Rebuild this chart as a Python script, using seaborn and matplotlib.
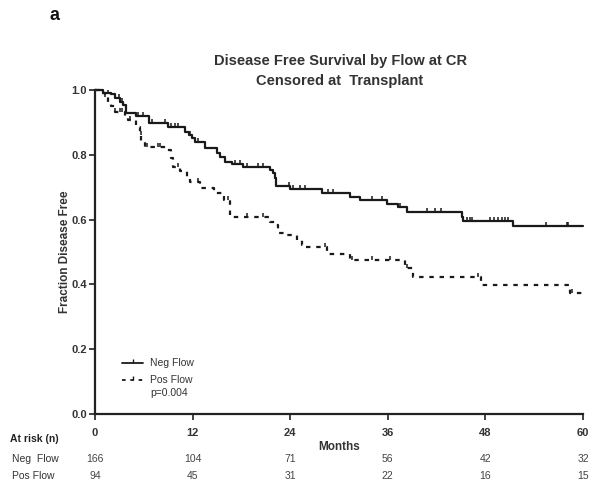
import numpy as np
import pandas as pd
import matplotlib
matplotlib.use("Agg")
import matplotlib.pyplot as plt
from matplotlib.lines import Line2D
import seaborn as sns

# ---------------- data ----------------
neg_times = [0, 1.0, 2.0, 2.5, 3.1, 3.5, 3.8, 5.1, 6.6, 9.0, 11.1, 11.5, 11.9, 12.3,
             13.5, 15.0, 15.4, 16.0, 16.8, 18.2, 21.5, 21.9, 22.1, 22.3, 24.0, 27.9,
             31.4, 32.6, 35.9, 37.3, 38.3, 45.1, 45.3, 51.4, 60.0]
neg_surv = [1.0, 0.992, 0.988, 0.974, 0.964, 0.954, 0.928, 0.92, 0.897, 0.887, 0.871,
            0.861, 0.851, 0.84, 0.82, 0.805, 0.794, 0.779, 0.772, 0.761, 0.753, 0.743,
            0.727, 0.704, 0.693, 0.683, 0.671, 0.66, 0.648, 0.64, 0.624, 0.609, 0.596,
            0.58, 0.58]
neg_censor = [0.8, 1.6, 2.9, 3.3, 5.3, 5.9, 7.0, 8.6, 9.4, 9.8, 10.2, 11.7, 12.7,
              17.2, 17.8, 18.7, 20.1, 20.7, 23.8, 24.4, 25.2, 25.8, 28.7, 29.3, 34.0,
              35.3, 37.5, 40.8, 41.8, 42.6, 45.7, 46.1, 46.3, 48.6, 49.0, 49.6, 50.0,
              50.4, 50.8, 55.5, 58.0, 58.2]

pos_times = [0, 0.8, 1.2, 1.6, 2.0, 2.5, 3.7, 4.1, 5.1, 5.5, 5.7, 6.15, 8.8, 9.3, 9.6,
             10.5, 11.3, 11.7, 12.9, 14.6, 15.8, 16.6, 21.5, 22.1, 22.5, 23.6, 24.8,
             25.4, 25.8, 28.5, 31.4, 38.1, 39.1, 47.4, 58.4, 60.0]
pos_surv = [1.0, 0.99, 0.979, 0.964, 0.95, 0.932, 0.914, 0.907, 0.887, 0.86, 0.84,
            0.825, 0.815, 0.79, 0.763, 0.75, 0.73, 0.717, 0.697, 0.681, 0.66, 0.609,
            0.594, 0.583, 0.558, 0.552, 0.537, 0.522, 0.516, 0.494, 0.475, 0.45, 0.424,
            0.398, 0.372, 0.372]
pos_censor = [1.2, 2.5, 3.1, 3.3, 4.3, 5.6, 6.4, 7.8, 8.0, 10.2, 12.7, 15.8, 16.4,
              18.7, 20.7, 28.3, 31.6, 34.0, 36.3, 38.3, 47.1, 58.6]

risk_months = [0, 12, 24, 36, 48, 60]
risk_neg = [166, 104, 71, 56, 42, 32]
risk_pos = [94, 45, 31, 22, 16, 15]

title = "Disease Free Survival by Flow at CR\nCensored at  Transplant"

# ---------------- style ----------------
sns.set_theme(style="ticks")
plt.rcParams["font.family"] = ["Liberation Sans", "DejaVu Sans"]
txt = "#333333"

fig = plt.figure(figsize=(6.0, 4.9), dpi=100)
ax = fig.add_axes([95/600, 1-414/490, (583-95)/600, (414-90)/490])

line_col = "#1a1a1a"


def step_at(times, surv, pts):
    t = np.asarray(times)
    s = np.asarray(surv)
    idx = np.searchsorted(t, pts, side="right") - 1
    return s[idx]


neg_df = pd.DataFrame({"t": neg_times, "s": neg_surv})
pos_df = pd.DataFrame({"t": pos_times, "s": pos_surv})

sns.lineplot(data=neg_df, x="t", y="s", drawstyle="steps-post", estimator=None,
             color=line_col, lw=1.6, ax=ax, clip_on=False, sort=False)
sns.lineplot(data=pos_df, x="t", y="s", drawstyle="steps-post", estimator=None,
             color=line_col, lw=1.6, ax=ax, clip_on=False, sort=False,
             linestyle=(0, (2.0, 2.6)))

nc = pd.DataFrame({"t": neg_censor, "s": step_at(neg_times, neg_surv, neg_censor)})
pc = pd.DataFrame({"t": pos_censor, "s": step_at(pos_times, pos_surv, pos_censor)})
sns.scatterplot(data=nc, x="t", y="s", marker=2, s=9, color=line_col, linewidth=1.1, ax=ax)
sns.scatterplot(data=pc, x="t", y="s", marker=2, s=9, color=line_col, linewidth=1.1, ax=ax)

ax.set_xlim(0, 60)
ax.set_ylim(0, 1.0)
ax.set_xticks(risk_months)
ax.set_yticks([0.0, 0.2, 0.4, 0.6, 0.8, 1.0])
ax.set_yticklabels(["0.0", "0.2", "0.4", "0.6", "0.8", "1.0"])
ax.tick_params(axis="both", direction="out", length=4, width=1.3, color=txt,
               labelsize=8, labelcolor=txt, pad=2)
for lab in ax.get_xticklabels() + ax.get_yticklabels():
    lab.set_fontweight("bold")
ax.tick_params(axis="x", pad=6)
sns.despine(ax=ax)
for sp in ["left", "bottom"]:
    ax.spines[sp].set_linewidth(1.6)
    ax.spines[sp].set_color("#222222")

ax.set_xlabel("")
ax.set_ylabel("Fraction Disease Free", fontsize=8.5, fontweight="bold", color=txt,
              labelpad=0)

# title
fig.text(340/600, 1-71/490, title, ha="center", va="center", fontsize=10.5,
         fontweight="bold", color=txt, linespacing=1.55)
fig.text(50/600, 1-16/490, "a", ha="left", va="center", fontsize=13,
         fontweight="bold", color="#111111")

# Months label
fig.text(339/600, 1-447/490, "Months", ha="center", va="center", fontsize=8.5,
         fontweight="bold", color=txt)

# legend
handles = [Line2D([0], [0], color=line_col, lw=1.3, marker=2, markersize=3),
           Line2D([0], [0], color=line_col, lw=1.3, linestyle=(0, (2.0, 2.6)),
                  marker=2, markersize=3)]
leg = ax.legend(handles, ["Neg Flow", "Pos Flow"], loc="upper left",
                bbox_to_anchor=((118-95)/488, (414-354)/324), frameon=False,
                fontsize=7.5, handlelength=2.0, handletextpad=0.7, labelspacing=0.7,
                borderaxespad=0)
for t in leg.get_texts():
    t.set_color(txt)
ax.text(150/600, 1-393/490, "p=0.004", transform=fig.transFigure, fontsize=7.5,
        color=txt, ha="left", va="center")

# at-risk table
fig.text(10/600, 1-439/490, "At risk (n)", ha="left", va="center", fontsize=7.5,
         fontweight="bold", color="#222222")
fig.text(12/600, 1-459/490, "Neg  Flow", ha="left", va="center", fontsize=7.5,
         color=txt)
fig.text(12/600, 1-476/490, "Pos Flow", ha="left", va="center", fontsize=7.5,
         color=txt)
for m, a, b in zip(risk_months, risk_neg, risk_pos):
    xf = (95 + m / 60 * (583 - 95)) / 600
    fig.text(xf, 1-459/490, str(a), ha="center", va="center", fontsize=7.5, color="#444444")
    fig.text(xf, 1-476/490, str(b), ha="center", va="center", fontsize=7.5, color="#444444")

fig.savefig("out.png", dpi=100, facecolor="white")
